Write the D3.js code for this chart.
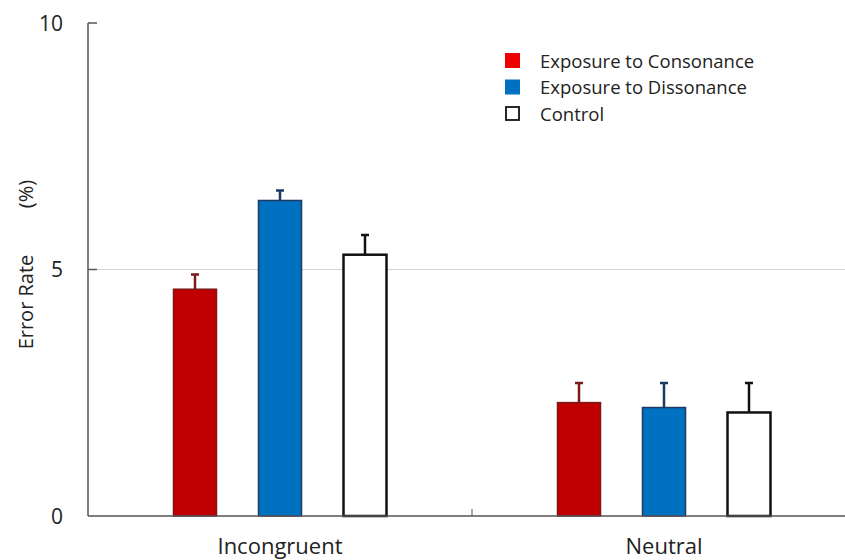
<!DOCTYPE html>
<html>
<head>
<meta charset="utf-8">
<script src="https://cdn.jsdelivr.net/npm/d3@7"></script>
<style>
  body { margin: 0; background: #fff; }
  svg text { font-family: "Open Sans", "Noto Sans", sans-serif; fill: #222; }
</style>
</head>
<body>
<svg id="chart" width="845" height="560"></svg>
<script>
var categories = ['Incongruent', 'Neutral'];
var seriesNames = ['Exposure to Consonance', 'Exposure to Dissonance', 'Control'];
var consonance = [4.6, 2.3];
var dissonance = [6.4, 2.2];
var control = [5.3, 2.1];
var consonanceErr = [0.3, 0.4];
var dissonanceErr = [0.2, 0.5];
var controlErr = [0.4, 0.6];
var yTicks = [0, 5, 10];

var fills = ['#c00000', '#0070c0', '#ffffff'];
var strokes = ['#7a1a1a', '#1c3a66', '#111111'];
var legendFills = ['#ee0000', '#0070c0', '#ffffff'];

var svg = d3.select('#chart');
var margin = {left: 88, top: 23, right: -11, bottom: 44};
var W = 845, H = 560;

var x = d3.scaleBand().domain(categories).range([margin.left, W - margin.right]);
var y = d3.scaleLinear().domain([0, 10]).range([H - margin.bottom, margin.top]);

// gridline at 5
svg.append('line')
    .attr('x1', margin.left).attr('x2', W)
    .attr('y1', y(5)).attr('y2', y(5))
    .attr('stroke', '#d4d4d4').attr('stroke-width', 1);

var rows = [];
var vals = [consonance, dissonance, control];
var errs = [consonanceErr, dissonanceErr, controlErr];
categories.forEach(function(c, i) {
    seriesNames.forEach(function(s, j) {
        rows.push({cat: c, series: s, idx: j, value: vals[j][i], err: errs[j][i]});
    });
});

var barW = 43;
var offset = function(j) { return (j - 1) * 85; };

var g = svg.append('g');
g.selectAll('.err')
    .data(rows)
    .enter().append('path')
    .attr('class', 'err')
    .attr('d', function(d) {
        var cx = x(d.cat) + x.bandwidth() / 2 + offset(d.idx);
        return 'M' + cx + ',' + y(d.value) + 'V' + y(d.value + d.err) +
               'M' + (cx - 4) + ',' + y(d.value + d.err) + 'H' + (cx + 4);
    })
    .attr('stroke', function(d) { return strokes[d.idx]; })
    .attr('stroke-width', 2.5)
    .attr('fill', 'none');

g.selectAll('.bar')
    .data(rows)
    .enter().append('rect')
    .attr('class', 'bar')
    .attr('x', function(d) { return x(d.cat) + x.bandwidth() / 2 + offset(d.idx) - barW / 2; })
    .attr('y', function(d) { return y(d.value); })
    .attr('width', barW)
    .attr('height', function(d) { return y(0) - y(d.value); })
    .attr('fill', function(d) { return fills[d.idx]; })
    .attr('stroke', function(d) { return strokes[d.idx]; })
    .attr('stroke-width', function(d) { return d.idx === 2 ? 2.5 : 1.5; });

// axes
svg.append('line')
    .attr('x1', margin.left).attr('x2', margin.left)
    .attr('y1', y(0)).attr('y2', y(10))
    .attr('stroke', '#555').attr('stroke-width', 1.5);
svg.append('line')
    .attr('x1', margin.left).attr('x2', W)
    .attr('y1', y(0)).attr('y2', y(0))
    .attr('stroke', '#555').attr('stroke-width', 1.5);

svg.selectAll('.ytick')
    .data(yTicks.filter(function(t) { return t > 0; }))
    .enter().append('line')
    .attr('x1', margin.left).attr('x2', margin.left + 9)
    .attr('y1', function(d) { return y(d); }).attr('y2', function(d) { return y(d); })
    .attr('stroke', '#555').attr('stroke-width', 1.5);

svg.selectAll('.ylab')
    .data(yTicks)
    .enter().append('text')
    .attr('x', 63)
    .attr('y', function(d) { return y(d) + 7.5; })
    .attr('text-anchor', 'end')
    .attr('font-size', 21)
    .text(function(d) { return d; });

// category divider tick
svg.append('line')
    .attr('x1', x('Neutral')).attr('x2', x('Neutral'))
    .attr('y1', y(0)).attr('y2', y(0) - 7)
    .attr('stroke', '#555').attr('stroke-width', 1);

svg.selectAll('.xlab')
    .data(categories)
    .enter().append('text')
    .attr('x', function(d) { return x(d) + x.bandwidth() / 2; })
    .attr('y', 554)
    .attr('text-anchor', 'middle')
    .attr('font-size', 22)
    .text(function(d) { return d; });

// y axis title, two pieces as in the original
svg.append('text')
    .attr('transform', 'translate(33,302) rotate(-90)')
    .attr('text-anchor', 'middle')
    .attr('font-size', 20)
    .text('Error Rate');
svg.append('text')
    .attr('transform', 'translate(33,194) rotate(-90)')
    .attr('text-anchor', 'middle')
    .attr('font-size', 20)
    .text('(%)');

// legend
var leg = svg.append('g').attr('transform', 'translate(505,53)');
var li = leg.selectAll('g').data(seriesNames).enter().append('g')
    .attr('transform', function(d, i) { return 'translate(0,' + (i * 26.5) + ')'; });
li.append('rect')
    .attr('width', function(d, i) { return i === 2 ? 13 : 15; })
    .attr('height', function(d, i) { return i === 2 ? 13 : 15; })
    .attr('x', function(d, i) { return i === 2 ? 1 : 0; })
    .attr('y', function(d, i) { return i === 2 ? 1 : 0; })
    .attr('fill', function(d, i) { return legendFills[i]; })
    .attr('stroke', function(d, i) { return i === 2 ? '#111' : 'none'; })
    .attr('stroke-width', 1.8);
li.append('text')
    .attr('x', 35)
    .attr('y', 14.5)
    .attr('font-size', 18.5)
    .text(function(d) { return d; });
</script>
</body>
</html>
